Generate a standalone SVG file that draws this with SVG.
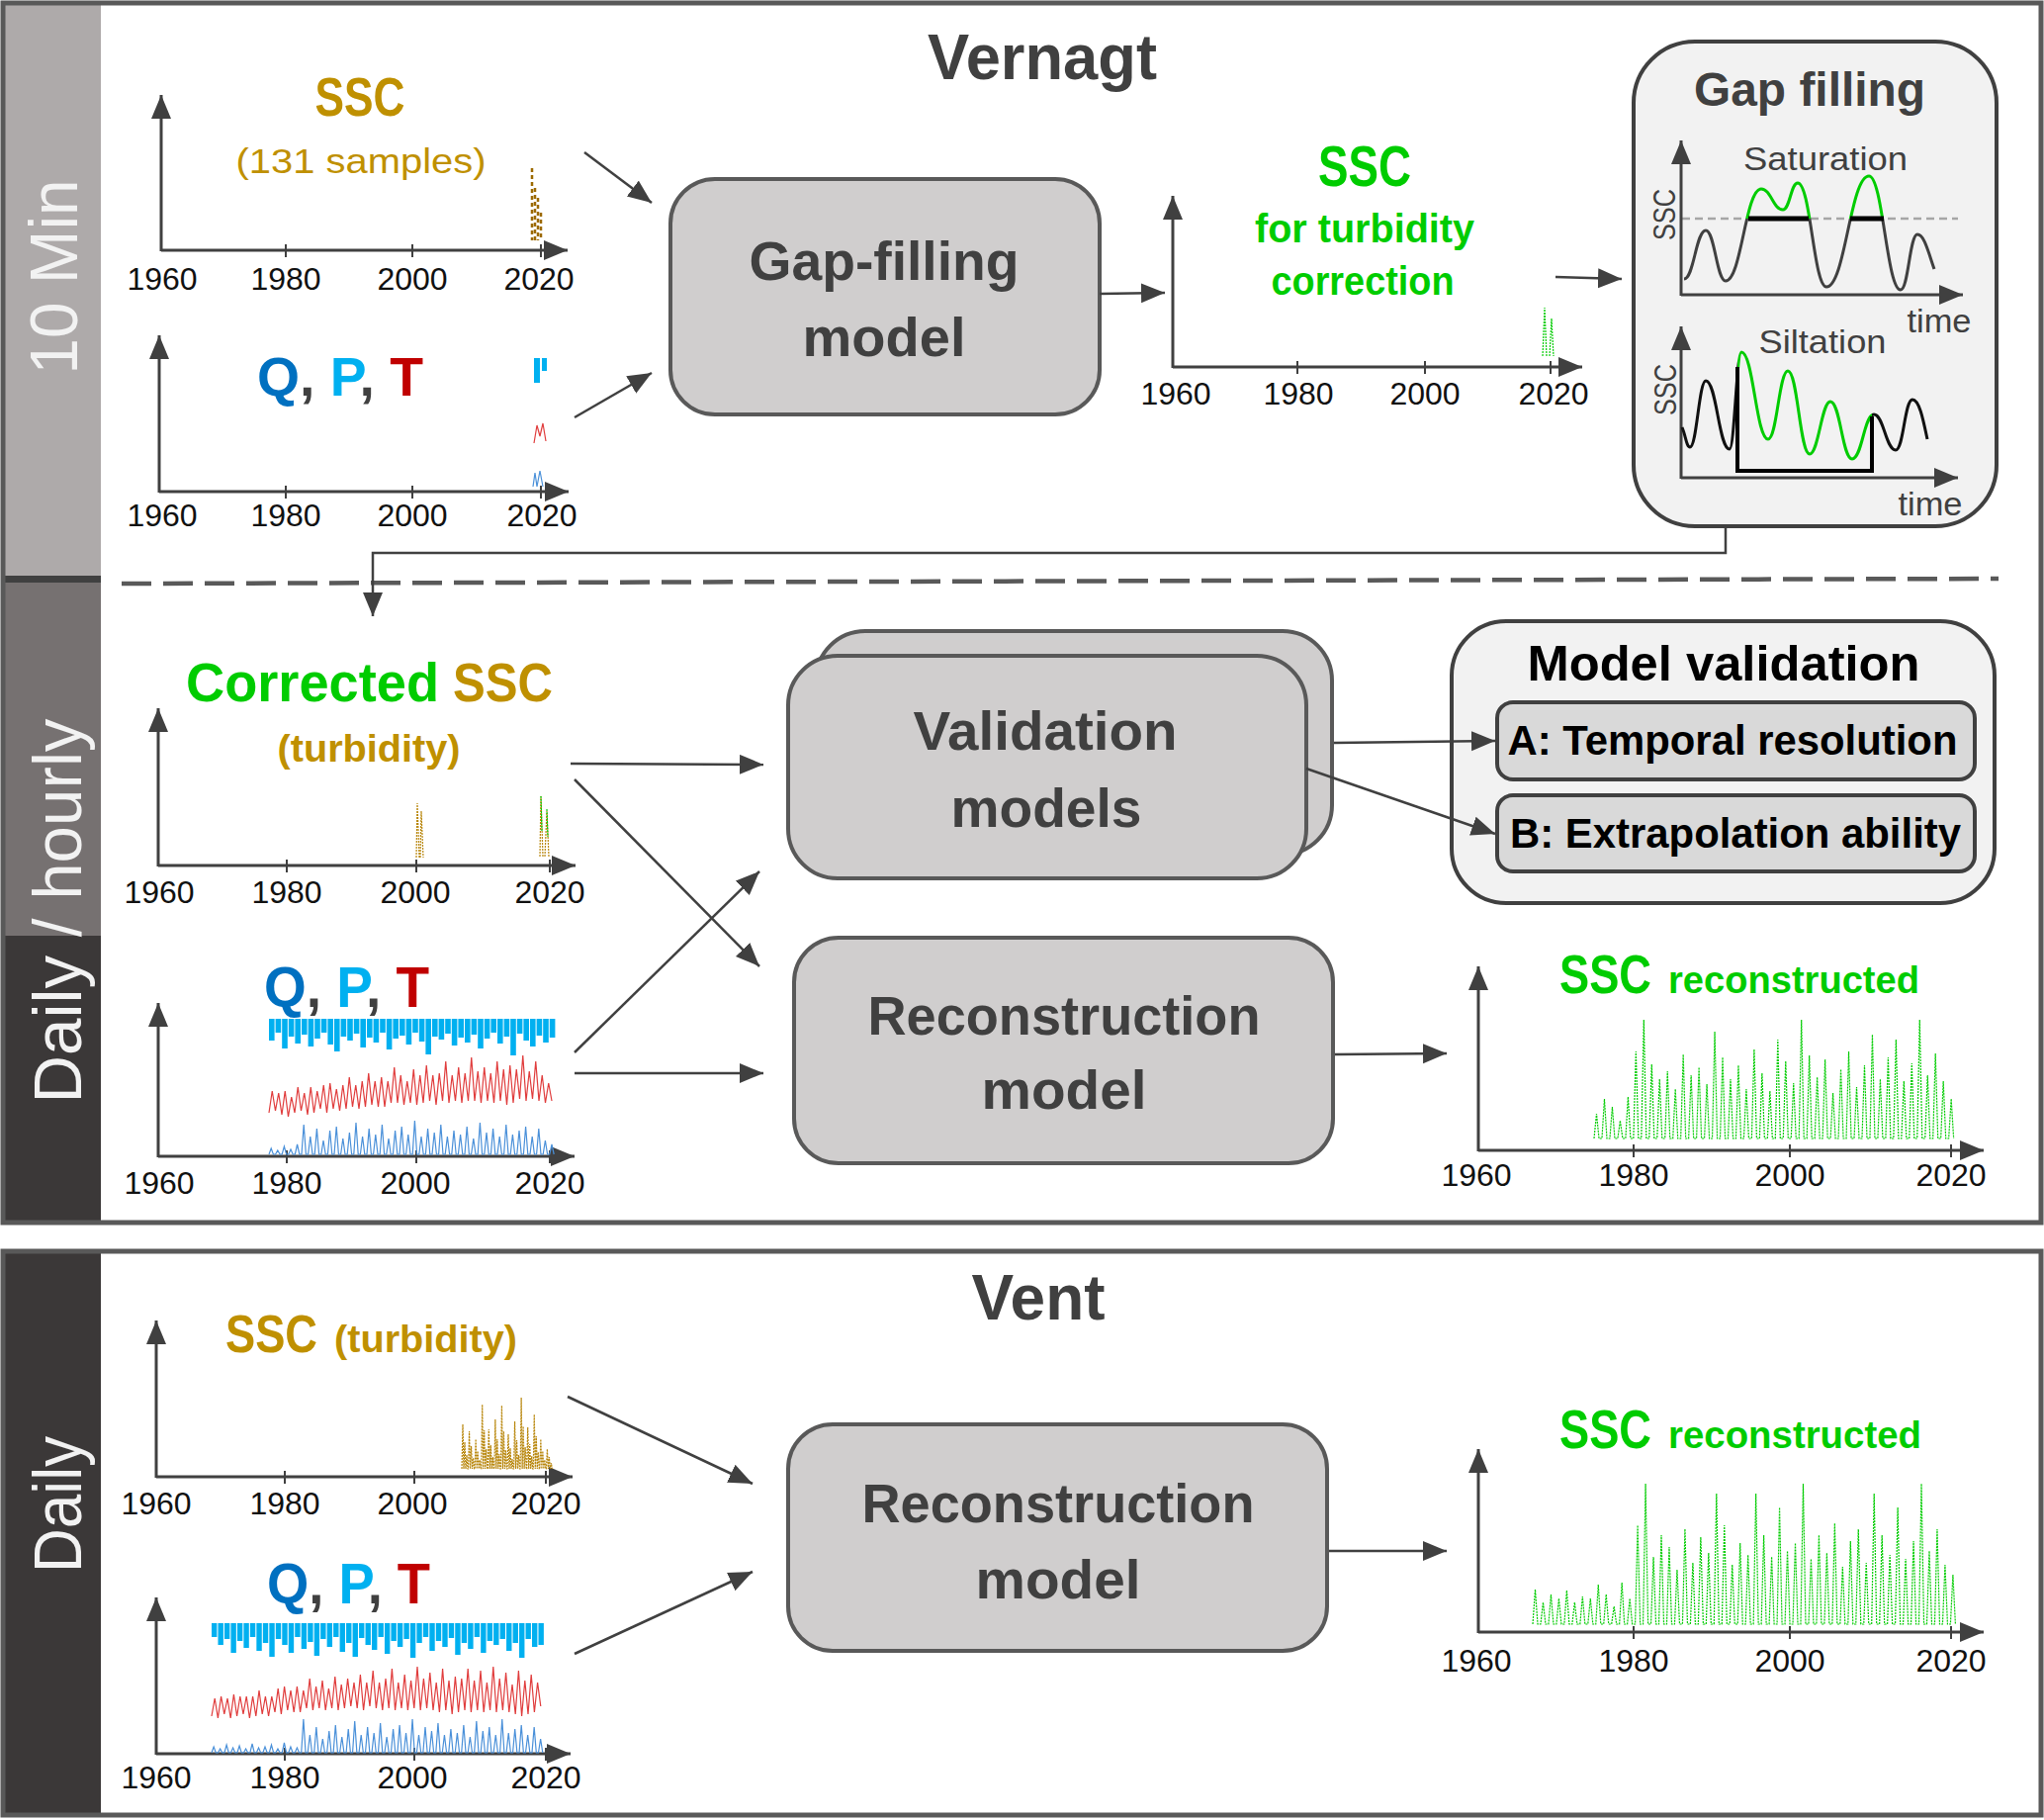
<svg xmlns="http://www.w3.org/2000/svg" width="2067" height="1840" viewBox="0 0 2067 1840">
<style>
text{font-family:'Liberation Sans',Arial,sans-serif}
.ax{stroke:#404040;stroke-width:3;fill:none;marker-end:url(#ah)}
.tk{stroke:#404040;stroke-width:2}
.yr{font-size:32px;fill:#111;text-anchor:middle}
.box{fill:#d0cece;stroke:#595959;stroke-width:4}
.bt{font-size:56px;font-weight:bold;fill:#404040;text-anchor:middle}
.con{stroke:#404040;stroke-width:2.5;fill:none;marker-end:url(#ah)}
.side{font-size:68px;fill:#f2f2f2;text-anchor:middle}
.b{font-weight:bold}
.m{text-anchor:middle}
.sp{fill:none;stroke-width:1.2;stroke-dasharray:2 1}
.frame{fill:none;stroke:#595959;stroke-width:5}
</style>
<defs>
<marker id="ah" markerUnits="userSpaceOnUse" markerWidth="26" markerHeight="22" refX="24" refY="10" orient="auto" viewBox="0 0 26 22"><path d="M0,0L24,10L0,20z" fill="#404040"/></marker>
<clipPath id="satUp"><rect x="1690" y="100" width="320" height="121"/></clipPath>
<clipPath id="satDn"><rect x="1690" y="221" width="320" height="100"/></clipPath>
<clipPath id="silL"><rect x="1690" y="320" width="67" height="170"/></clipPath>
<clipPath id="silM"><rect x="1757" y="320" width="136" height="170"/></clipPath>
<clipPath id="silR"><rect x="1893" y="320" width="100" height="170"/></clipPath>
</defs>
<rect width="2067" height="1840" fill="#fff"/>

<g id="sidebars">
<rect x="1" y="1" width="101" height="586" fill="#aeaaaa"/>
<rect x="1" y="587" width="101" height="359" fill="#767171"/>
<rect x="1" y="946" width="101" height="291" fill="#3b3838"/>
<rect x="1" y="582" width="101" height="7" fill="#404040"/>
<rect x="1" y="1263" width="101" height="574" fill="#3b3838"/>
<text class="side" transform="translate(78,280) rotate(-90)" textLength="197" lengthAdjust="spacingAndGlyphs">10 Min</text>
<text class="side" transform="translate(82,921) rotate(-90)" font-size="70" textLength="389" lengthAdjust="spacingAndGlyphs">Daily / hourly</text>
<text class="side" transform="translate(82,1521) rotate(-90)" font-size="70" textLength="138" lengthAdjust="spacingAndGlyphs">Daily</text>
</g>
<rect class="frame" x="3" y="3" width="2061" height="1233"/>
<rect class="frame" x="3" y="1265" width="2061" height="570"/>
<line x1="123" y1="590" x2="2021" y2="585" stroke="#595959" stroke-width="4.5" stroke-dasharray="30 12"/>

<text class="b m" x="1054" y="80" font-size="64" fill="#404040" textLength="232" lengthAdjust="spacingAndGlyphs">Vernagt</text>
<text class="b m" x="1050" y="1334" font-size="64" fill="#404040" textLength="135" lengthAdjust="spacingAndGlyphs">Vent</text>

<g id="chart-ssc-samples">
<path class="ax" d="M163,254V96"/><path class="ax" d="M163,253H574"/>
<path class="tk" d="M289,247v13M417,247v13M547,247v13"/>
<text class="yr" x="164" y="293">1960</text><text class="yr" x="289" y="293">1980</text><text class="yr" x="417" y="293">2000</text><text class="yr" x="545" y="293">2020</text>
<text class="b m" x="364" y="117" font-size="56" fill="#bf9000" textLength="91" lengthAdjust="spacingAndGlyphs">SSC</text>
<text class="m" x="365" y="175" font-size="35" fill="#bf9000" textLength="253" lengthAdjust="spacingAndGlyphs">(131 samples)</text>
<path d="M538,170V243M541,190V243M544,200V243M547,215V243" stroke="#9c6a00" stroke-width="2.5" stroke-dasharray="4 3"/>
</g>

<g id="chart-qpt-10min">
<path class="ax" d="M161,498V339"/><path class="ax" d="M161,497H575"/>
<path class="tk" d="M289,491v13M417,491v13M547,491v13"/>
<text class="yr" x="164" y="532">1960</text><text class="yr" x="289" y="532">1980</text><text class="yr" x="417" y="532">2000</text><text class="yr" x="548" y="532">2020</text>
<text class="b" x="260" y="400" font-size="56" textLength="168" lengthAdjust="spacingAndGlyphs"><tspan fill="#0070c0">Q</tspan><tspan fill="#404040">, </tspan><tspan fill="#00b0f0">P</tspan><tspan fill="#404040">, </tspan><tspan fill="#c00000">T</tspan></text>
<rect x="540" y="362" width="6" height="25" fill="#00b0f0"/><rect x="548" y="362" width="5" height="13" fill="#00b0f0"/>
<path d="M540,448L543,430L546,441L549,428L552,446" fill="none" stroke="#e03c3c" stroke-width="1.2"/>
<path d="M539,492L541,478L543,492L546,476L549,492" fill="none" stroke="#4a90d9" stroke-width="1.2"/>
</g>

<g id="node-gapfilling-model">
<rect class="box" x="678" y="181" width="434" height="238" rx="45"/>
<text class="bt" x="894" y="283" textLength="273" lengthAdjust="spacingAndGlyphs">Gap-filling</text>
<text class="bt" x="894" y="360" textLength="165" lengthAdjust="spacingAndGlyphs">model</text>
</g>

<g id="chart-ssc-turbidity-correction">
<path class="ax" d="M1186,372V198"/><path class="ax" d="M1186,371H1600"/>
<path class="tk" d="M1312,365v13M1441,365v13M1568,365v13"/>
<text class="yr" x="1189" y="409">1960</text><text class="yr" x="1313" y="409">1980</text><text class="yr" x="1441" y="409">2000</text><text class="yr" x="1571" y="409">2020</text>
<text class="b m" x="1380" y="188" font-size="57" fill="#00cc00" textLength="94" lengthAdjust="spacingAndGlyphs">SSC</text>
<text class="b m" x="1380" y="245" font-size="40" fill="#00cc00" textLength="222" lengthAdjust="spacingAndGlyphs">for turbidity</text>
<text class="b m" x="1378" y="298" font-size="40" fill="#00cc00" textLength="185" lengthAdjust="spacingAndGlyphs">correction</text>
<path class="sp" stroke="#00cc00" d="M1560,360L1562,311L1564,360M1567,360L1569,322L1571,360"/>
</g>

<g id="node-gap-filling">
<rect x="1652" y="42" width="367" height="490" rx="62" fill="#f2f2f2" stroke="#404040" stroke-width="4"/>
<text class="b m" x="1830" y="107" font-size="48" fill="#404040" textLength="234" lengthAdjust="spacingAndGlyphs">Gap filling</text>
<line x1="1701" y1="221" x2="1980" y2="221" stroke="#a6a6a6" stroke-width="2.5" stroke-dasharray="8 5"/>
<path class="ax" d="M1700,299V142" stroke-width="2.5"/><path class="ax" d="M1700,298H1985" stroke-width="2.5"/>
<text class="m" x="1846" y="172" font-size="33" fill="#404040" textLength="166" lengthAdjust="spacingAndGlyphs">Saturation</text>
<text transform="translate(1694,217) rotate(-90)" class="m" font-size="32" fill="#404040" textLength="52" lengthAdjust="spacingAndGlyphs">SSC</text>
<text class="m" x="1961" y="336" font-size="33" fill="#404040" textLength="65" lengthAdjust="spacingAndGlyphs">time</text>
<path d="M1703,282C1713,282 1715,233 1725,233C1734,233 1736,284 1745,284C1761,284 1765,191 1781,191C1791,191 1793,212 1803,212C1810,212 1811,185 1818,185C1831,185 1834,290 1847,290C1866,290 1871,178 1890,178C1904,178 1908,293 1922,293C1930,293 1931,237 1939,237C1946,237 1950,255 1956,272" fill="none" stroke="#404040" stroke-width="3" clip-path="url(#satDn)"/>
<path d="M1703,282C1713,282 1715,233 1725,233C1734,233 1736,284 1745,284C1761,284 1765,191 1781,191C1791,191 1793,212 1803,212C1810,212 1811,185 1818,185C1831,185 1834,290 1847,290C1866,290 1871,178 1890,178C1904,178 1908,293 1922,293C1930,293 1931,237 1939,237C1946,237 1950,255 1956,272" fill="none" stroke="#00cc00" stroke-width="3" clip-path="url(#satUp)"/>
<path d="M1768,221H1829M1871,221H1905" stroke="#000" stroke-width="5"/>
<path class="ax" d="M1700,484V330" stroke-width="2.5"/><path class="ax" d="M1700,483H1980" stroke-width="2.5"/>
<text class="m" x="1843" y="357" font-size="33" fill="#404040" textLength="129" lengthAdjust="spacingAndGlyphs">Siltation</text>
<text transform="translate(1695,394) rotate(-90)" class="m" font-size="32" fill="#404040" textLength="52" lengthAdjust="spacingAndGlyphs">SSC</text>
<text class="m" x="1952" y="521" font-size="33" fill="#404040" textLength="65" lengthAdjust="spacingAndGlyphs">time</text>
<path d="M1701,432C1704.6,440 1705.4,452 1709,452C1716,452 1718,385 1725,385C1736,385 1738,454 1749,454C1754,454 1756,356 1761,356C1773,356 1776,444 1788,444C1797,444 1799,375 1808,375C1818,375 1820,459 1830,459C1839,459 1842,406 1851,406C1861,406 1863,464 1873,464C1883,464 1885,419 1895,419C1905,419 1907,455 1917,455C1925,455 1926,404 1934,404C1941,404 1945,425 1949,444" fill="none" stroke="#111" stroke-width="3" clip-path="url(#silL)"/>
<path d="M1701,432C1704.6,440 1705.4,452 1709,452C1716,452 1718,385 1725,385C1736,385 1738,454 1749,454C1754,454 1756,356 1761,356C1773,356 1776,444 1788,444C1797,444 1799,375 1808,375C1818,375 1820,459 1830,459C1839,459 1842,406 1851,406C1861,406 1863,464 1873,464C1883,464 1885,419 1895,419C1905,419 1907,455 1917,455C1925,455 1926,404 1934,404C1941,404 1945,425 1949,444" fill="none" stroke="#00cc00" stroke-width="3" clip-path="url(#silM)"/>
<path d="M1701,432C1704.6,440 1705.4,452 1709,452C1716,452 1718,385 1725,385C1736,385 1738,454 1749,454C1754,454 1756,356 1761,356C1773,356 1776,444 1788,444C1797,444 1799,375 1808,375C1818,375 1820,459 1830,459C1839,459 1842,406 1851,406C1861,406 1863,464 1873,464C1883,464 1885,419 1895,419C1905,419 1907,455 1917,455C1925,455 1926,404 1934,404C1941,404 1945,425 1949,444" fill="none" stroke="#111" stroke-width="3" clip-path="url(#silR)"/>
<path d="M1757,371V476H1893V421" fill="none" stroke="#000" stroke-width="4"/>
</g>

<g id="chart-corrected-ssc">
<path class="ax" d="M160,876V716"/><path class="ax" d="M160,875H582"/>
<path class="tk" d="M290,869v13M421,869v13M556,869v13"/>
<text class="yr" x="161" y="913">1960</text><text class="yr" x="290" y="913">1980</text><text class="yr" x="420" y="913">2000</text><text class="yr" x="556" y="913">2020</text>
<text class="b" x="188" y="709" font-size="56" fill="#00cc00" textLength="256" lengthAdjust="spacingAndGlyphs">Corrected</text>
<text class="b" x="458" y="709" font-size="56" fill="#bf9000" textLength="101" lengthAdjust="spacingAndGlyphs">SSC</text>
<text class="b m" x="373" y="770" font-size="39" fill="#bf9000" textLength="185" lengthAdjust="spacingAndGlyphs">(turbidity)</text>
<path class="sp" stroke="#b8860b" d="M421,867L422,812L424,867M425,867L426,820L428,867M546,866L547,805L549,866M551,866L553,820L555,866"/>
<path class="sp" stroke="#00cc00" d="M547,805L548,840M553,818L554,846"/>
</g>

<g id="chart-qpt-daily">
<path class="ax" d="M160,1170V1014"/><path class="ax" d="M160,1169H581"/>
<path class="tk" d="M290,1163v13M421,1163v13M556,1163v13"/>
<text class="yr" x="161" y="1207">1960</text><text class="yr" x="290" y="1207">1980</text><text class="yr" x="420" y="1207">2000</text><text class="yr" x="556" y="1207">2020</text>
<text class="b" x="267" y="1018" font-size="58" textLength="167" lengthAdjust="spacingAndGlyphs"><tspan fill="#0070c0">Q</tspan><tspan fill="#404040">, </tspan><tspan fill="#00b0f0">P</tspan><tspan fill="#404040">, </tspan><tspan fill="#c00000">T</tspan></text>
<path fill="#00b0f0" d="M272,1030h5.6v22h-5.6zm6.6,0h5.6v14h-5.6zm6.6,0h5.6v30h-5.6zm6.6,0h5.6v18h-5.6zm6.6,0h5.6v25h-5.6zm6.6,0h5.6v16h-5.6zm6.6,0h5.6v28h-5.6zm6.6,0h5.6v20h-5.6zm6.6,0h5.6v14h-5.6zm6.6,0h5.6v26h-5.6zm6.6,0h5.6v33h-5.6zm6.6,0h5.6v18h-5.6zm6.6,0h5.6v22h-5.6zm6.6,0h5.6v15h-5.6zm6.6,0h5.6v29h-5.6zm6.6,0h5.6v19h-5.6zm6.6,0h5.6v24h-5.6zm6.6,0h5.6v14h-5.6zm6.6,0h5.6v31h-5.6zm6.6,0h5.6v20h-5.6zm6.6,0h5.6v17h-5.6zm6.6,0h5.6v26h-5.6zm6.6,0h5.6v14h-5.6zm6.6,0h5.6v23h-5.6zm6.6,0h5.6v36h-5.6zm6.6,0h5.6v18h-5.6zm6.6,0h5.6v21h-5.6zm6.6,0h5.6v15h-5.6zm6.6,0h5.6v27h-5.6zm6.6,0h5.6v19h-5.6zm6.6,0h5.6v24h-5.6zm6.6,0h5.6v16h-5.6zm6.6,0h5.6v30h-5.6zm6.6,0h5.6v20h-5.6zm6.6,0h5.6v14h-5.6zm6.6,0h5.6v25h-5.6zm6.6,0h5.6v18h-5.6zm6.6,0h5.6v37h-5.6zm6.6,0h5.6v15h-5.6zm6.6,0h5.6v22h-5.6zm6.6,0h5.6v28h-5.6zm6.6,0h5.6v17h-5.6zm6.6,0h5.6v24h-5.6zm6.6,0h5.6v19h-5.6z"/>
<path fill="none" stroke="#e03c3c" stroke-width="1.2" d="M272,1125l3.25-22 3.25 20 3.25-18 3.25 22 3.25-24 3.25 26 3.25-20 3.25 16 3.25-26 3.25 24 3.25-18 3.25 22 3.25-28 3.25 26 3.25-22 3.25 18 3.25-24 3.25 28 3.25-30 3.25 26 3.25-20 3.25 22 3.25-26 3.25 24 3.25-32 3.25 30 3.25-22 3.25 24 3.25-28 3.25 26 3.25-34 3.25 32 3.25-24 3.25 26 3.25-30 3.25 30 3.25-26 3.25 22 3.25-36 3.25 36 3.25-28 3.25 30 3.25-24 3.25 22 3.25-34 3.25 36 3.25-30 3.25 28 3.25-38 3.25 36 3.25-26 3.25 30 3.25-32 3.25 28 3.25-40 3.25 42 3.25-28 3.25 26 3.25-34 3.25 36 3.25-30 3.25 28 3.25-44 3.25 44 3.25-30 3.25 32 3.25-36 3.25 34 3.25-28 3.25 30 3.25-42 3.25 40 3.25-32 3.25 36 3.25-40 3.25 38 3.25-34 3.25 30 3.25-44 3.25 46 3.25-30 3.25 28 3.25-38 3.25 40 3.25-26 3.25 28 3.25-20 3.25 18"/>
<path fill="none" stroke="#4a90d9" stroke-width="1.2" d="M272,1167l2.2-6 2.2 6 2.2 0 2.2-4 2.2 4 2.2 0 2.2-8 2.2 8 2.2 0 2.2-5 2.2 5 2.2 0 2.2-10 2.2 10 2.2 0 2.2-30 2.2 30 2.2 0 2.2-18 2.2 18 2.2 0 2.2-26 2.2 26 2.2 0 2.2-14 2.2 14 2.2 0 2.2-24 2.2 24 2.2 0 2.2-28 2.2 28 2.2 0 2.2-16 2.2 16 2.2 0 2.2-22 2.2 22 2.2 0 2.2-32 2.2 32 2.2 0 2.2-18 2.2 18 2.2 0 2.2-26 2.2 26 2.2 0 2.2-20 2.2 20 2.2 0 2.2-30 2.2 30 2.2 0 2.2-16 2.2 16 2.2 0 2.2-24 2.2 24 2.2 0 2.2-28 2.2 28 2.2 0 2.2-20 2.2 20 2.2 0 2.2-34 2.2 34 2.2 0 2.2-18 2.2 18 2.2 0 2.2-26 2.2 26 2.2 0 2.2-22 2.2 22 2.2 0 2.2-30 2.2 30 2.2 0 2.2-18 2.2 18 2.2 0 2.2-24 2.2 24 2.2 0 2.2-20 2.2 20 2.2 0 2.2-28 2.2 28 2.2 0 2.2-16 2.2 16 2.2 0 2.2-32 2.2 32 2.2 0 2.2-22 2.2 22 2.2 0 2.2-26 2.2 26 2.2 0 2.2-18 2.2 18 2.2 0 2.2-30 2.2 30 2.2 0 2.2-20 2.2 20 2.2 0 2.2-24 2.2 24 2.2 0 2.2-28 2.2 28 2.2 0 2.2-18 2.2 18 2.2 0 2.2-26 2.2 26 2.2 0 2.2-14 2.2 14 2.2 0 2.2-10 2.2 10"/>
</g>

<g id="node-validation-models">
<rect class="box" x="825" y="638" width="522" height="226" rx="50"/>
<rect class="box" x="797" y="663" width="524" height="225" rx="50"/>
<text class="bt" x="1057" y="758" textLength="267" lengthAdjust="spacingAndGlyphs">Validation</text>
<text class="bt" x="1058" y="836" textLength="193" lengthAdjust="spacingAndGlyphs">models</text>
</g>

<g id="node-reconstruction-model-vernagt">
<rect class="box" x="803" y="948" width="545" height="228" rx="45"/>
<text class="bt" x="1076" y="1046" textLength="397" lengthAdjust="spacingAndGlyphs">Reconstruction</text>
<text class="bt" x="1076" y="1121" textLength="167" lengthAdjust="spacingAndGlyphs">model</text>
</g>

<g id="node-model-validation">
<rect x="1468" y="628" width="549" height="285" rx="55" fill="#f2f2f2" stroke="#404040" stroke-width="4"/>
<text class="b m" x="1743" y="688" font-size="50" fill="#000" textLength="397" lengthAdjust="spacingAndGlyphs">Model validation</text>
<rect x="1514" y="710" width="483" height="78" rx="16" fill="#d9d9d9" stroke="#404040" stroke-width="4"/>
<text class="b m" x="1752" y="763" font-size="42" fill="#000" textLength="455" lengthAdjust="spacingAndGlyphs">A: Temporal resolution</text>
<rect x="1514" y="804" width="483" height="77" rx="16" fill="#d9d9d9" stroke="#404040" stroke-width="4"/>
<text class="b m" x="1755" y="857" font-size="42" fill="#000" textLength="456" lengthAdjust="spacingAndGlyphs">B: Extrapolation ability</text>
</g>

<g id="chart-ssc-reconstructed-vernagt">
<path class="ax" d="M1495,1164V977"/><path class="ax" d="M1495,1163H2006"/>
<path class="tk" d="M1652,1157v13M1810,1157v13M1973,1157v13"/>
<text class="yr" x="1493" y="1199">1960</text><text class="yr" x="1652" y="1199">1980</text><text class="yr" x="1810" y="1199">2000</text><text class="yr" x="1973" y="1199">2020</text>
<text class="b" x="1577" y="1004" font-size="56" fill="#00cc00" textLength="93" lengthAdjust="spacingAndGlyphs">SSC</text>
<text class="b" x="1687" y="1004" font-size="38" fill="#00cc00" textLength="254" lengthAdjust="spacingAndGlyphs">reconstructed</text>
<path class="sp" stroke="#00cc00" d="M1612,1151l2.5-25 2.5 25 2.97 0 2.5-40 2.5 40 2.97 0 2.5-32 2.5 32 2.97 0 2.5-18 2.5 18 2.97 0 2.5-42 2.5 42 2.97 0 2.5-88 2.5 88 2.97 0 2.5-120 2.5 120 2.97 0 2.5-75 2.5 75 2.97 0 2.5-60 2.5 60 2.97 0 2.5-68 2.5 68 2.97 0 2.5-50 2.5 50 2.97 0 2.5-85 2.5 85 2.97 0 2.5-64 2.5 64 2.97 0 2.5-72 2.5 72 2.97 0 2.5-55 2.5 55 2.97 0 2.5-108 2.5 108 2.97 0 2.5-82 2.5 82 2.97 0 2.5-60 2.5 60 2.97 0 2.5-74 2.5 74 2.97 0 2.5-50 2.5 50 2.97 0 2.5-90 2.5 90 2.97 0 2.5-66 2.5 66 2.97 0 2.5-48 2.5 48 2.97 0 2.5-100 2.5 100 2.97 0 2.5-78 2.5 78 2.97 0 2.5-56 2.5 56 2.97 0 2.5-120 2.5 120 2.97 0 2.5-84 2.5 84 2.97 0 2.5-62 2.5 62 2.97 0 2.5-80 2.5 80 2.97 0 2.5-46 2.5 46 2.97 0 2.5-70 2.5 70 2.97 0 2.5-88 2.5 88 2.97 0 2.5-52 2.5 52 2.97 0 2.5-74 2.5 74 2.97 0 2.5-105 2.5 105 2.97 0 2.5-60 2.5 60 2.97 0 2.5-82 2.5 82 2.97 0 2.5-100 2.5 100 2.97 0 2.5-58 2.5 58 2.97 0 2.5-76 2.5 76 2.97 0 2.5-120 2.5 120 2.97 0 2.5-64 2.5 64 2.97 0 2.5-86 2.5 86 2.97 0 2.5-58 2.5 58 2.97 0 2.5-40 2.5 40"/>
</g>

<g id="chart-ssc-turbidity-vent">
<path class="ax" d="M158,1494V1335"/><path class="ax" d="M158,1493H579"/>
<path class="tk" d="M288,1487v13M419,1487v13M552,1487v13"/>
<text class="yr" x="158" y="1531">1960</text><text class="yr" x="288" y="1531">1980</text><text class="yr" x="417" y="1531">2000</text><text class="yr" x="552" y="1531">2020</text>
<text class="b" x="228" y="1367" font-size="54" fill="#bf9000" textLength="93" lengthAdjust="spacingAndGlyphs">SSC</text>
<text class="b" x="338" y="1367" font-size="38" fill="#bf9000" textLength="185" lengthAdjust="spacingAndGlyphs">(turbidity)</text>
<path class="sp" stroke="#b8860b" d="M467,1485l1-45 1 45 1-27 1 27 1-14 1 14 0.57 0 1-38 1 38 1-23 1 23 1-11 1 11 0.57 0 1-30 1 30 1-18 1 18 1-9 1 9 0.57 0 1-65 1 65 1-39 1 39 1-20 1 20 0.57 0 1-40 1 40 1-24 1 24 1-12 1 12 0.57 0 1-50 1 50 1-30 1 30 1-15 1 15 0.57 0 1-64 1 64 1-38 1 38 1-19 1 19 0.57 0 1-35 1 35 1-21 1 21 1-10 1 10 0.57 0 1-48 1 48 1-29 1 29 1-14 1 14 0.57 0 1-72 1 72 1-43 1 43 1-22 1 22 0.57 0 1-42 1 42 1-25 1 25 1-13 1 13 0.57 0 1-55 1 55 1-33 1 33 1-17 1 17 0.57 0 1-30 1 30 1-18 1 18 1-9 1 9 0.57 0 1-20 1 20 1-12 1 12 1-6 1 6"/>
</g>

<g id="chart-qpt-vent">
<path class="ax" d="M158,1774V1615"/><path class="ax" d="M158,1773H577"/>
<path class="tk" d="M288,1767v13M419,1767v13M552,1767v13"/>
<text class="yr" x="158" y="1808">1960</text><text class="yr" x="288" y="1808">1980</text><text class="yr" x="417" y="1808">2000</text><text class="yr" x="552" y="1808">2020</text>
<text class="b" x="270" y="1621" font-size="58" textLength="165" lengthAdjust="spacingAndGlyphs"><tspan fill="#0070c0">Q</tspan><tspan fill="#404040">, </tspan><tspan fill="#00b0f0">P</tspan><tspan fill="#404040">, </tspan><tspan fill="#c00000">T</tspan></text>
<path fill="#00b0f0" d="M214,1641h5.4v14h-5.4zm6.48,0h5.4v22h-5.4zm6.48,0h5.4v16h-5.4zm6.48,0h5.4v30h-5.4zm6.48,0h5.4v18h-5.4zm6.48,0h5.4v25h-5.4zm6.48,0h5.4v14h-5.4zm6.48,0h5.4v28h-5.4zm6.48,0h5.4v20h-5.4zm6.48,0h5.4v34h-5.4zm6.48,0h5.4v16h-5.4zm6.48,0h5.4v22h-5.4zm6.48,0h5.4v30h-5.4zm6.48,0h5.4v14h-5.4zm6.48,0h5.4v26h-5.4zm6.48,0h5.4v19h-5.4zm6.48,0h5.4v33h-5.4zm6.48,0h5.4v16h-5.4zm6.48,0h5.4v24h-5.4zm6.48,0h5.4v14h-5.4zm6.48,0h5.4v29h-5.4zm6.48,0h5.4v20h-5.4zm6.48,0h5.4v34h-5.4zm6.48,0h5.4v15h-5.4zm6.48,0h5.4v22h-5.4zm6.48,0h5.4v27h-5.4zm6.48,0h5.4v14h-5.4zm6.48,0h5.4v31h-5.4zm6.48,0h5.4v18h-5.4zm6.48,0h5.4v24h-5.4zm6.48,0h5.4v16h-5.4zm6.48,0h5.4v35h-5.4zm6.48,0h5.4v20h-5.4zm6.48,0h5.4v14h-5.4zm6.48,0h5.4v28h-5.4zm6.48,0h5.4v18h-5.4zm6.48,0h5.4v24h-5.4zm6.48,0h5.4v15h-5.4zm6.48,0h5.4v32h-5.4zm6.48,0h5.4v20h-5.4zm6.48,0h5.4v26h-5.4zm6.48,0h5.4v14h-5.4zm6.48,0h5.4v30h-5.4zm6.48,0h5.4v18h-5.4zm6.48,0h5.4v22h-5.4zm6.48,0h5.4v16h-5.4zm6.48,0h5.4v28h-5.4zm6.48,0h5.4v20h-5.4zm6.48,0h5.4v35h-5.4zm6.48,0h5.4v16h-5.4zm6.48,0h5.4v24h-5.4zm6.48,0h5.4v22h-5.4z"/>
<path fill="none" stroke="#e03c3c" stroke-width="1.2" d="M214,1735l3.2-18 3.2 20 3.2-22 3.2 18 3.2-16 3.2 20 3.2-24 3.2 22 3.2-20 3.2 18 3.2-18 3.2 22 3.2-22 3.2 20 3.2-26 3.2 24 3.2-18 3.2 20 3.2-20 3.2 16 3.2-24 3.2 26 3.2-28 3.2 24 3.2-20 3.2 22 3.2-26 3.2 26 3.2-22 3.2 18 3.2-30 3.2 32 3.2-24 3.2 22 3.2-28 3.2 30 3.2-22 3.2 20 3.2-32 3.2 34 3.2-26 3.2 24 3.2-30 3.2 28 3.2-24 3.2 26 3.2-34 3.2 36 3.2-28 3.2 24 3.2-36 3.2 38 3.2-26 3.2 28 3.2-32 3.2 30 3.2-40 3.2 42 3.2-28 3.2 26 3.2-34 3.2 36 3.2-30 3.2 28 3.2-42 3.2 44 3.2-32 3.2 30 3.2-36 3.2 38 3.2-28 3.2 30 3.2-44 3.2 42 3.2-30 3.2 34 3.2-38 3.2 36 3.2-34 3.2 32 3.2-42 3.2 44 3.2-32 3.2 30 3.2-40 3.2 42 3.2-30 3.2 28 3.2-44 3.2 46 3.2-34 3.2 32 3.2-38 3.2 40 3.2-28 3.2 30 3.2-44 3.2 46 3.2-36 3.2 34 3.2-40 3.2 38 3.2-30 3.2 24"/>
<path fill="none" stroke="#4a90d9" stroke-width="1.2" d="M214,1772l2.16-6 2.16 6 2.16 0 2.16-4 2.16 4 2.16 0 2.16-8 2.16 8 2.16 0 2.16-5 2.16 5 2.16 0 2.16-7 2.16 7 2.16 0 2.16-4 2.16 4 2.16 0 2.16-9 2.16 9 2.16 0 2.16-5 2.16 5 2.16 0 2.16-6 2.16 6 2.16 0 2.16-8 2.16 8 2.16 0 2.16-4 2.16 4 2.16 0 2.16-10 2.16 10 2.16 0 2.16-6 2.16 6 2.16 0 2.16-5 2.16 5 2.16 0 2.16-34 2.16 34 2.16 0 2.16-18 2.16 18 2.16 0 2.16-26 2.16 26 2.16 0 2.16-14 2.16 14 2.16 0 2.16-22 2.16 22 2.16 0 2.16-28 2.16 28 2.16 0 2.16-16 2.16 16 2.16 0 2.16-24 2.16 24 2.16 0 2.16-32 2.16 32 2.16 0 2.16-18 2.16 18 2.16 0 2.16-26 2.16 26 2.16 0 2.16-20 2.16 20 2.16 0 2.16-30 2.16 30 2.16 0 2.16-16 2.16 16 2.16 0 2.16-24 2.16 24 2.16 0 2.16-28 2.16 28 2.16 0 2.16-20 2.16 20 2.16 0 2.16-34 2.16 34 2.16 0 2.16-18 2.16 18 2.16 0 2.16-26 2.16 26 2.16 0 2.16-22 2.16 22 2.16 0 2.16-30 2.16 30 2.16 0 2.16-18 2.16 18 2.16 0 2.16-24 2.16 24 2.16 0 2.16-20 2.16 20 2.16 0 2.16-28 2.16 28 2.16 0 2.16-16 2.16 16 2.16 0 2.16-32 2.16 32 2.16 0 2.16-22 2.16 22 2.16 0 2.16-26 2.16 26 2.16 0 2.16-18 2.16 18 2.16 0 2.16-34 2.16 34 2.16 0 2.16-20 2.16 20 2.16 0 2.16-24 2.16 24 2.16 0 2.16-28 2.16 28 2.16 0 2.16-18 2.16 18 2.16 0 2.16-26 2.16 26 2.16 0 2.16-14 2.16 14"/>
</g>

<g id="node-reconstruction-model-vent">
<rect class="box" x="797" y="1440" width="545" height="229" rx="45"/>
<text class="bt" x="1070" y="1539" textLength="397" lengthAdjust="spacingAndGlyphs">Reconstruction</text>
<text class="bt" x="1070" y="1616" textLength="167" lengthAdjust="spacingAndGlyphs">model</text>
</g>

<g id="chart-ssc-reconstructed-vent">
<path class="ax" d="M1495,1651V1465"/><path class="ax" d="M1495,1650H2006"/>
<path class="tk" d="M1652,1644v13M1810,1644v13M1973,1644v13"/>
<text class="yr" x="1493" y="1690">1960</text><text class="yr" x="1652" y="1690">1980</text><text class="yr" x="1810" y="1690">2000</text><text class="yr" x="1973" y="1690">2020</text>
<text class="b" x="1577" y="1464" font-size="56" fill="#00cc00" textLength="93" lengthAdjust="spacingAndGlyphs">SSC</text>
<text class="b" x="1687" y="1464" font-size="38" fill="#00cc00" textLength="256" lengthAdjust="spacingAndGlyphs">reconstructed</text>
<path class="sp" stroke="#00cc00" d="M1550,1642l2.5-35 2.5 35 2.97 0 2.5-22 2.5 22 2.97 0 2.5-30 2.5 30 2.97 0 2.5-26 2.5 26 2.97 0 2.5-34 2.5 34 2.97 0 2.5-22 2.5 22 2.97 0 2.5-28 2.5 28 2.97 0 2.5-26 2.5 26 2.97 0 2.5-40 2.5 40 2.97 0 2.5-30 2.5 30 2.97 0 2.5-18 2.5 18 2.97 0 2.5-42 2.5 42 2.97 0 2.5-26 2.5 26 2.97 0 2.5-100 2.5 100 2.97 0 2.5-142 2.5 142 2.97 0 2.5-68 2.5 68 2.97 0 2.5-90 2.5 90 2.97 0 2.5-78 2.5 78 2.97 0 2.5-55 2.5 55 2.97 0 2.5-96 2.5 96 2.97 0 2.5-62 2.5 62 2.97 0 2.5-88 2.5 88 2.97 0 2.5-72 2.5 72 2.97 0 2.5-132 2.5 132 2.97 0 2.5-100 2.5 100 2.97 0 2.5-60 2.5 60 2.97 0 2.5-82 2.5 82 2.97 0 2.5-70 2.5 70 2.97 0 2.5-132 2.5 132 2.97 0 2.5-90 2.5 90 2.97 0 2.5-68 2.5 68 2.97 0 2.5-118 2.5 118 2.97 0 2.5-74 2.5 74 2.97 0 2.5-82 2.5 82 2.97 0 2.5-142 2.5 142 2.97 0 2.5-66 2.5 66 2.97 0 2.5-90 2.5 90 2.97 0 2.5-72 2.5 72 2.97 0 2.5-102 2.5 102 2.97 0 2.5-58 2.5 58 2.97 0 2.5-84 2.5 84 2.97 0 2.5-96 2.5 96 2.97 0 2.5-62 2.5 62 2.97 0 2.5-132 2.5 132 2.97 0 2.5-90 2.5 90 2.97 0 2.5-70 2.5 70 2.97 0 2.5-118 2.5 118 2.97 0 2.5-66 2.5 66 2.97 0 2.5-84 2.5 84 2.97 0 2.5-142 2.5 142 2.97 0 2.5-74 2.5 74 2.97 0 2.5-96 2.5 96 2.97 0 2.5-60 2.5 60 2.97 0 2.5-50 2.5 50"/>
</g>

<g id="connectors">
<path class="con" d="M591,154L659,205"/>
<path class="con" d="M581,422L659,377"/>
<path class="con" d="M1112,297L1178,296"/>
<path class="con" d="M1573,280L1640,282"/>
<path class="con" d="M1745,532V559H377V623"/>
<path class="con" d="M577,772L772,773"/>
<path class="con" d="M581,788L768,977"/>
<path class="con" d="M581,1064L768,881"/>
<path class="con" d="M581,1085L772,1085"/>
<path class="con" d="M1349,751L1512,749"/>
<path class="con" d="M1321,777L1512,843"/>
<path class="con" d="M1350,1066L1463,1065"/>
<path class="con" d="M574,1412L761,1500"/>
<path class="con" d="M581,1672L761,1589"/>
<path class="con" d="M1344,1568L1463,1568"/>
</g>
</svg>
